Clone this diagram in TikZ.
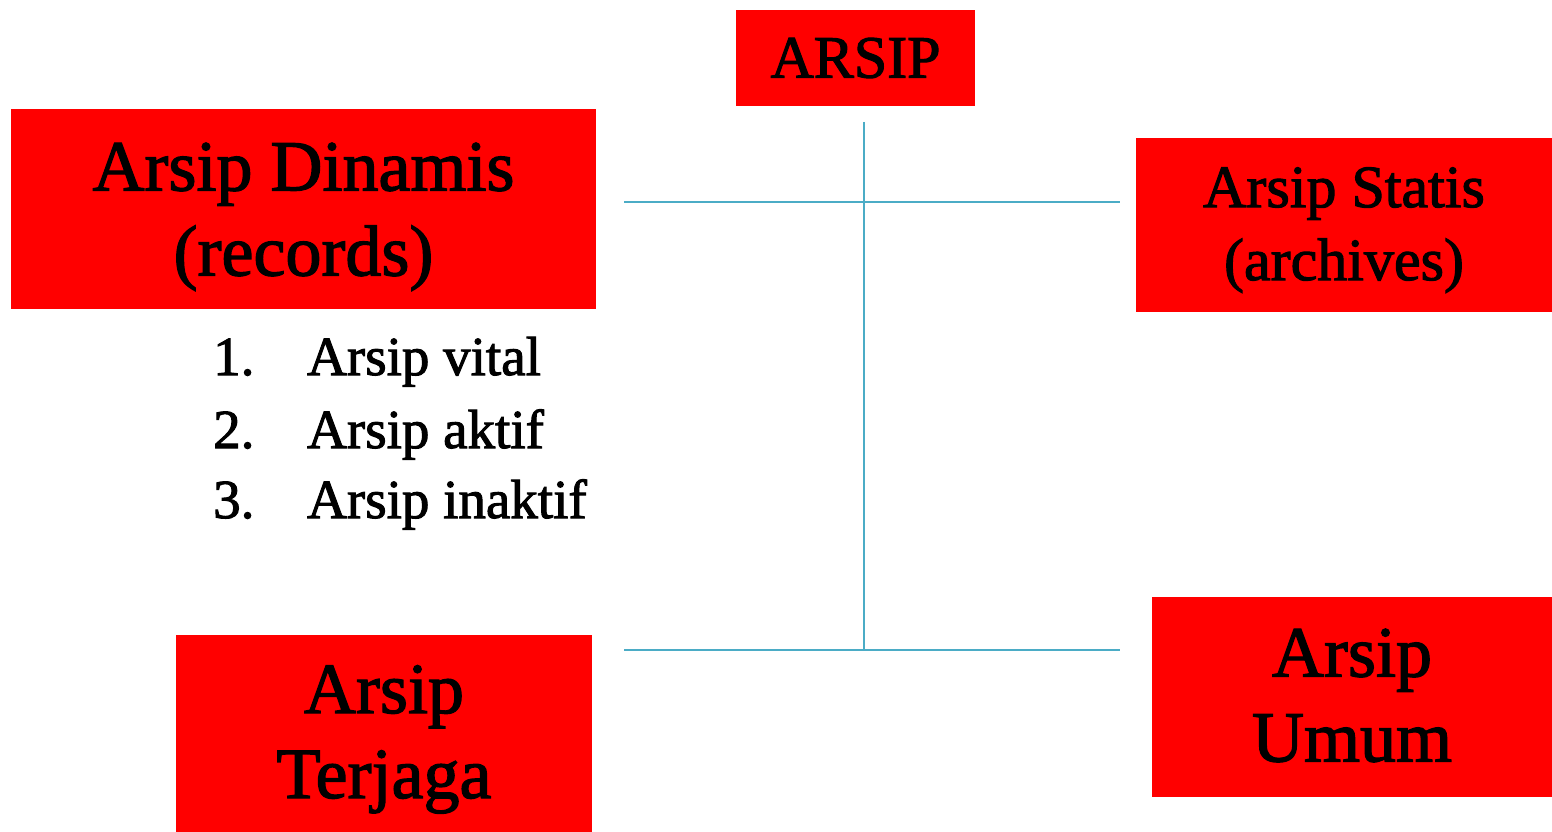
\documentclass[tikz,border=0pt]{standalone}
\usepackage{fontspec}
\setmainfont{Liberation Serif}[FakeBold=1.8]
\definecolor{boxred}{HTML}{FF0000}
\definecolor{linkblue}{HTML}{4BACC6}
% centred lines at a fixed pitch, drawn lower by #1 without changing the box size
\newcommand\stackedlines[2]{\raisebox{#1}[\height][\depth]{\begin{tabular}{@{}c@{}}#2\end{tabular}}}
\tikzset{
  redbox/.style={fill=boxred, draw=none, inner sep=0pt, text=black},
  bigtext/.style={font=\fontsize{72}{85}\selectfont},
  midtext/.style={font=\fontsize{60}{73}\selectfont},
  listtext/.style={font=\fontsize{55}{72}\selectfont, inner sep=0pt},
  link/.style={draw=linkblue, line width=2pt}
}
\begin{document}
\begin{tikzpicture}[x=1pt,y=-1pt]
\useasboundingbox (0,0) rectangle (1552,832);

% category boxes
\node[redbox, midtext, minimum width=239pt, minimum height=96pt] (arsip) at (855.5,58) {ARSIP};
\node[redbox, bigtext, minimum width=585pt, minimum height=200pt] (dinamis) at (303.5,209)
  {\stackedlines{-7pt}{Arsip Dinamis\\(records)}};
\node[redbox, midtext, minimum width=416pt, minimum height=174pt] (statis) at (1344,225)
  {\stackedlines{-4pt}{Arsip Statis\\(archives)}};
\node[redbox, bigtext, minimum width=416pt, minimum height=197pt] (terjaga) at (384,733.5)
  {\stackedlines{-5pt}{Arsip\\Terjaga}};
\node[redbox, bigtext, minimum width=400pt, minimum height=200pt] (umum) at (1352,697)
  {\stackedlines{-5pt}{Arsip\\Umum}};

% kinds of dynamic records
\node[listtext, anchor=base west] (n1) at (213,375) {1.};
\node[listtext, anchor=base west] (t1) at (307,375) {Arsip vital};
\node[listtext, anchor=base west] (n2) at (213,448) {2.};
\node[listtext, anchor=base west] (t2) at (307,448) {Arsip aktif};
\node[listtext, anchor=base west] (n3) at (213,518) {3.};
\node[listtext, anchor=base west] (t3) at (307,518) {Arsip inaktif};

% connector skeleton
\coordinate (stem) at (864,122);
\coordinate (hubtop) at (864,202);
\coordinate (hubbot) at (864,650);
\coordinate (lefttop) at (624,202);
\coordinate (righttop) at (1120,202);
\coordinate (leftbot) at (624,650);
\coordinate (rightbot) at (1120,650);

\draw[link] (stem) -- (hubbot);
\draw[link] (lefttop) -- (righttop);
\draw[link] (leftbot) -- (rightbot);
\end{tikzpicture}
\end{document}
